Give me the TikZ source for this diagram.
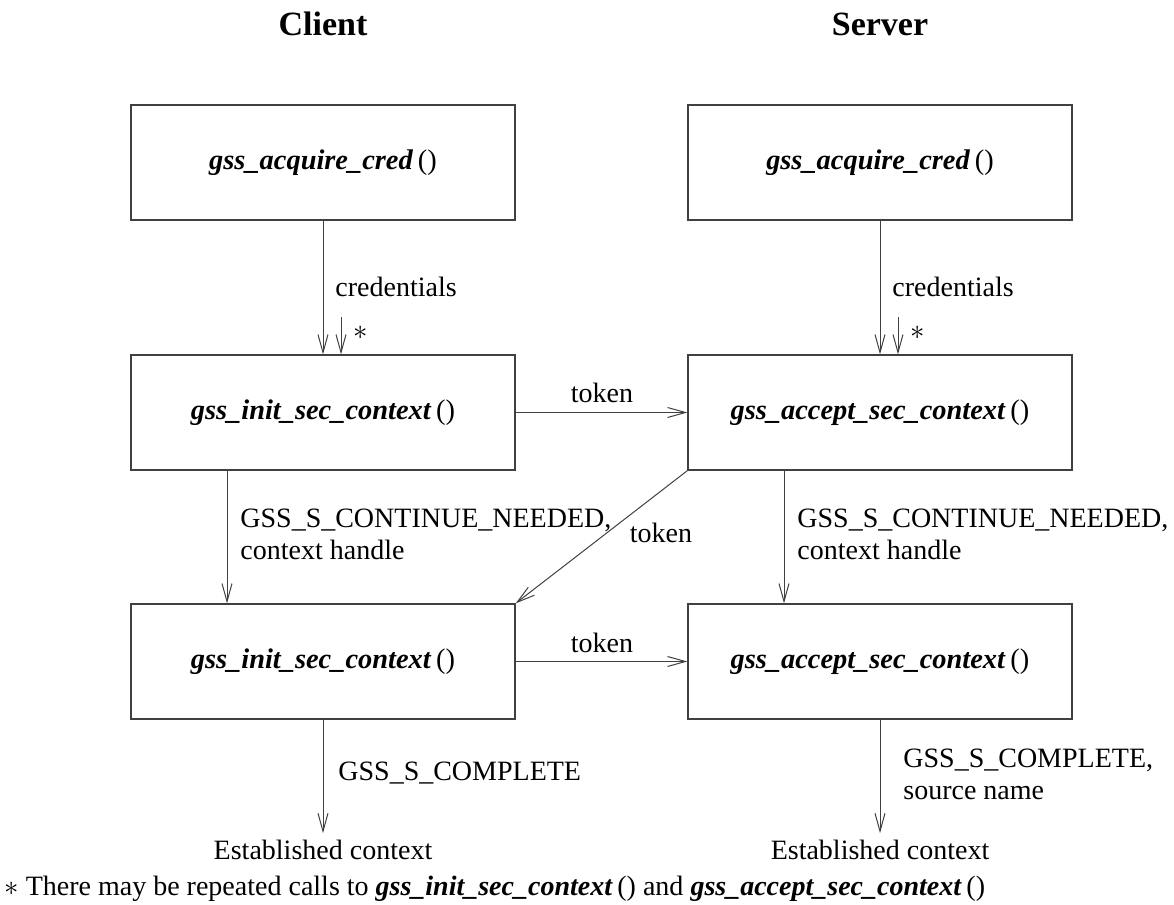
\documentclass[tikz,border=0pt]{standalone}
\usepackage{fontspec}
\setmainfont{Liberation Serif}
\usetikzlibrary{arrows.meta}
\newcommand\gssfn[1]{\textbf{\textit{#1}}\,()}
\begin{document}
\begin{tikzpicture}[x=0.5pt,y=-0.5pt,
  box/.style={draw=black!75, line width=0.6pt, minimum width=192pt, minimum height=57.5pt, inner sep=0pt, font=\fontsize{14.2}{16}\selectfont},
  lbl/.style={font=\fontsize{14}{16}\selectfont, inner sep=0pt, align=left},
  arr/.style={draw=black!75, line width=0.5pt, -{Straight Barb[length=9pt,width=5pt]}},
  title/.style={font=\fontsize{17}{20}\selectfont\bfseries, inner sep=0pt}]
\useasboundingbox (0,0) rectangle (1174,905);
% titles
\node[title] (tc) at (323,24) {Client};
\node[title] (ts) at (880,24) {Server};
% boxes
\node[box] (c1) at (323,162.5) {\gssfn{gss\_acquire\_cred}};
\node[box] (s1) at (880,162.5) {\gssfn{gss\_acquire\_cred}};
\node[box] (c2) at (323,412.5) {\gssfn{gss\_init\_sec\_context}};
\node[box] (s2) at (880,412.5) {\gssfn{gss\_accept\_sec\_context}};
\node[box] (c3) at (323,661.5) {\gssfn{gss\_init\_sec\_context}};
\node[box] (s3) at (880,661.5) {\gssfn{gss\_accept\_sec\_context}};
% credentials
\draw[arr] (c1.south) -- (c2.north);
\draw[arr] (s1.south) -- (s2.north);
\coordinate (cst) at (341,317);
\coordinate (sst) at (898,317);
\draw[arr] (cst) -- (cst |- c2.north);
\draw[arr] (sst) -- (sst |- s2.north);
\node[lbl, anchor=west] (cl1) at (335,287) {credentials};
\node[lbl, anchor=west] (cl2) at (892,287) {credentials};
\node[lbl] (st1) at (361,333) {$*$};
\node[lbl] (st2) at (918,333) {$*$};
% tokens
\draw[arr] (c2.east) -- (s2.west);
\node[lbl] (tk1) at (602,393) {token};
\draw[arr] (s2.south west) -- (c3.north east);
\node[lbl] (tk2) at (661,533) {token};
\draw[arr] (c3.east) -- (s3.west);
\node[lbl] (tk3) at (602,643) {token};
% continue needed
\draw[arr] ([xshift=-48pt]c2.south) -- ([xshift=-48pt]c3.north);
\draw[arr] ([xshift=-48pt]s2.south) -- ([xshift=-48pt]s3.north);
\node[lbl, anchor=west] (cn1) at (240,534) {GSS\_S\_CONTINUE\_NEEDED,\\context handle};
\node[lbl, anchor=west] (cn2) at (797,534) {GSS\_S\_CONTINUE\_NEEDED,\\context handle};
% complete
\node[lbl, inner sep=2pt, outer sep=1.5pt] (e1) at (323,850) {Established context};
\node[lbl, inner sep=2pt, outer sep=1.5pt] (e2) at (880,850) {Established context};
\draw[arr] (c3.south) -- (e1.north);
\draw[arr] (s3.south) -- (e2.north);
\node[lbl, anchor=west] (gc1) at (338,773) {GSS\_S\_COMPLETE};
\node[lbl, anchor=west] (gc2) at (903,774.5) {GSS\_S\_COMPLETE,\\source name};
% footnote
\node[lbl, anchor=west] (fn) at (4,889) {$*$ There may be repeated calls to \gssfn{gss\_init\_sec\_context} and \gssfn{gss\_accept\_sec\_context}};
\end{tikzpicture}
\end{document}
